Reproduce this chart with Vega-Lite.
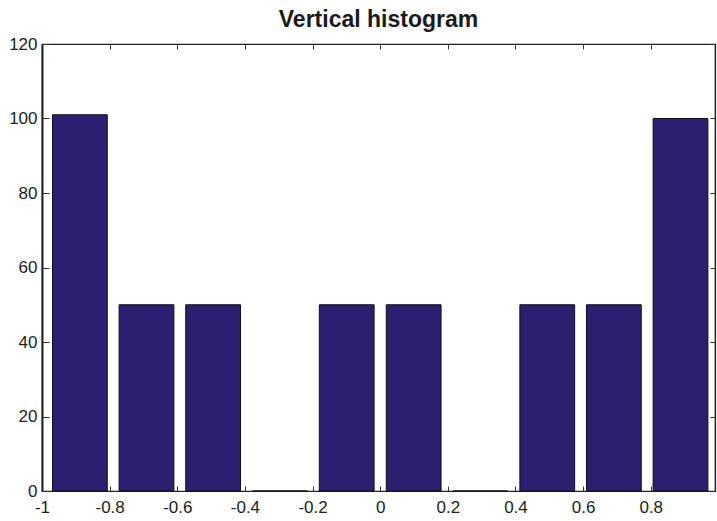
{
  "$schema": "https://vega.github.io/schema/vega-lite/v6.json",
  "autosize": "none",
  "width": 673,
  "height": 447,
  "padding": {"left": 42, "top": 44, "right": 2, "bottom": 30},
  "background": "white",
  "title": {"text": "Vertical histogram", "font": "Liberation Sans", "fontSize": 23, "fontWeight": "bold", "color": "#1a1a1a", "anchor": "middle", "baseline": "alphabetic", "offset": 14, "dy": 29},
  "config": {
    "view": {"stroke": "#222", "strokeWidth": 1.2},
    "axis": {"grid": false, "labelFont": "Liberation Sans", "labelFontSize": 17, "labelColor": "#222", "domainColor": "#222", "tickColor": "#333", "title": null}
  },
  "data": {"values": [
    {"lo": -0.969, "hi": -0.807, "count": 101},
    {"lo": -0.772, "hi": -0.610, "count": 50},
    {"lo": -0.575, "hi": -0.413, "count": 50},
    {"lo": -0.377, "hi": -0.215, "count": 0},
    {"lo": -0.180, "hi": -0.018, "count": 50},
    {"lo": 0.018, "hi": 0.180, "count": 50},
    {"lo": 0.215, "hi": 0.377, "count": 0},
    {"lo": 0.413, "hi": 0.575, "count": 50},
    {"lo": 0.610, "hi": 0.772, "count": 50},
    {"lo": 0.807, "hi": 0.969, "count": 100}
  ]},
  "layer": [
    {
      "mark": {"type": "bar", "fill": "#2c1f70", "stroke": "#111", "strokeWidth": 1},
      "encoding": {
        "x": {"field": "lo", "type": "quantitative", "scale": {"domain": [-1, 0.99], "nice": false, "zero": false},
              "axis": {"orient": "bottom", "values": [-1, -0.8, -0.6, -0.4, -0.2, 0, 0.2, 0.4, 0.6, 0.8], "labelExpr": "'' + datum.value", "tickSize": -5, "labelPadding": 13, "domainWidth": 1.2, "labelFlush": false}},
        "x2": {"field": "hi"},
        "y": {"field": "count", "type": "quantitative", "scale": {"domain": [0, 120], "nice": false},
              "axis": {"orient": "left", "values": [0, 20, 40, 60, 80, 100, 120], "tickSize": -7, "labelPadding": 12, "domainWidth": 2}},
        "y2": {"datum": 0}
      }
    },
    {
      "mark": {"type": "point", "opacity": 0},
      "encoding": {
        "x": {"field": "lo", "type": "quantitative", "scale": {"domain": [-1, 0.99], "nice": false, "zero": false},
              "axis": {"orient": "top", "values": [-1, -0.8, -0.6, -0.4, -0.2, 0, 0.2, 0.4, 0.6, 0.8], "tickSize": -5, "labels": false, "domainWidth": 1.2}},
        "y": {"field": "count", "type": "quantitative", "scale": {"domain": [0, 120], "nice": false},
              "axis": {"orient": "right", "values": [0, 20, 40, 60, 80, 100, 120], "tickSize": -5, "labels": false, "domainWidth": 1.2}}
      }
    }
  ],
  "resolve": {"axis": {"x": "independent", "y": "independent"}}
}
